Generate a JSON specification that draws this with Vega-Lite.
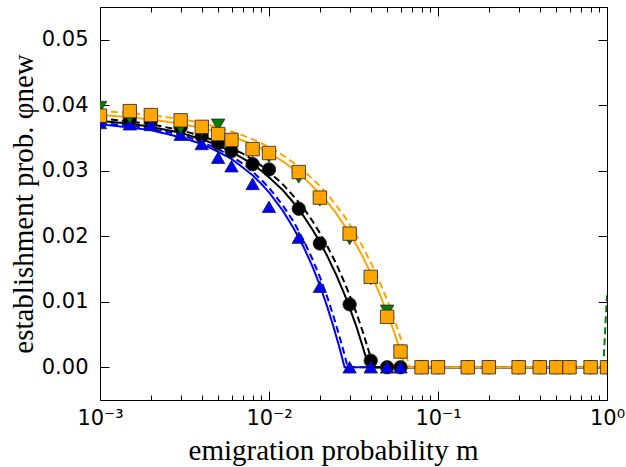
{
  "$schema": "https://vega.github.io/schema/vega-lite/v6.json",
  "autosize": "none",
  "width": 507,
  "height": 393,
  "padding": {"left": 100, "top": 7, "right": 19, "bottom": 67},
  "background": "white",
  "config": {
    "view": {"stroke": null},
    "axis": {
      "domainColor": "black", "domainWidth": 1, "tickColor": "black", "tickWidth": 1,
      "labelColor": "black", "labelFont": "DejaVu Sans", "labelFontSize": 21,
      "titleFont": "Liberation Serif", "titleFontSize": 29, "titleFontWeight": "normal", "titleColor": "black",
      "grid": false
    }
  },
  "datasets": {
    "lines": [
      {"s":"bs","c":"blue","d":"solid","m":0.001,"phi":0.0371},{"s":"bs","c":"blue","d":"solid","m":0.0015,"phi":0.0366},{"s":"bs","c":"blue","d":"solid","m":0.002,"phi":0.0362},{"s":"bs","c":"blue","d":"solid","m":0.003,"phi":0.0351},{"s":"bs","c":"blue","d":"solid","m":0.004,"phi":0.0341},{"s":"bs","c":"blue","d":"solid","m":0.005,"phi":0.0329},{"s":"bs","c":"blue","d":"solid","m":0.006,"phi":0.0318},{"s":"bs","c":"blue","d":"solid","m":0.007,"phi":0.0305},{"s":"bs","c":"blue","d":"solid","m":0.008,"phi":0.0293},{"s":"bs","c":"blue","d":"solid","m":0.009,"phi":0.028},{"s":"bs","c":"blue","d":"solid","m":0.01,"phi":0.0267},{"s":"bs","c":"blue","d":"solid","m":0.012,"phi":0.024},{"s":"bs","c":"blue","d":"solid","m":0.014,"phi":0.0212},{"s":"bs","c":"blue","d":"solid","m":0.016,"phi":0.0184},{"s":"bs","c":"blue","d":"solid","m":0.018,"phi":0.0155},{"s":"bs","c":"blue","d":"solid","m":0.02,"phi":0.0125},{"s":"bs","c":"blue","d":"solid","m":0.022,"phi":0.0094},{"s":"bs","c":"blue","d":"solid","m":0.024,"phi":0.0063},{"s":"bs","c":"blue","d":"solid","m":0.026,"phi":0.0032},{"s":"bs","c":"blue","d":"solid","m":0.028,"phi":0},{"s":"bs","c":"blue","d":"solid","m":1,"phi":0},
      {"s":"bd","c":"blue","d":"dashed","m":0.001,"phi":0.0373},{"s":"bd","c":"blue","d":"dashed","m":0.0015,"phi":0.0369},{"s":"bd","c":"blue","d":"dashed","m":0.002,"phi":0.0364},{"s":"bd","c":"blue","d":"dashed","m":0.003,"phi":0.0355},{"s":"bd","c":"blue","d":"dashed","m":0.004,"phi":0.0344},{"s":"bd","c":"blue","d":"dashed","m":0.005,"phi":0.0333},{"s":"bd","c":"blue","d":"dashed","m":0.006,"phi":0.0322},{"s":"bd","c":"blue","d":"dashed","m":0.007,"phi":0.0311},{"s":"bd","c":"blue","d":"dashed","m":0.008,"phi":0.0299},{"s":"bd","c":"blue","d":"dashed","m":0.009,"phi":0.0286},{"s":"bd","c":"blue","d":"dashed","m":0.01,"phi":0.0274},{"s":"bd","c":"blue","d":"dashed","m":0.012,"phi":0.0248},{"s":"bd","c":"blue","d":"dashed","m":0.014,"phi":0.0222},{"s":"bd","c":"blue","d":"dashed","m":0.016,"phi":0.0194},{"s":"bd","c":"blue","d":"dashed","m":0.018,"phi":0.0166},{"s":"bd","c":"blue","d":"dashed","m":0.02,"phi":0.0138},{"s":"bd","c":"blue","d":"dashed","m":0.022,"phi":0.0109},{"s":"bd","c":"blue","d":"dashed","m":0.024,"phi":0.0079},{"s":"bd","c":"blue","d":"dashed","m":0.026,"phi":0.0049},{"s":"bd","c":"blue","d":"dashed","m":0.028,"phi":0.0019},{"s":"bd","c":"blue","d":"dashed","m":0.0292,"phi":0},{"s":"bd","c":"blue","d":"dashed","m":1,"phi":0},
      {"s":"ks","c":"black","d":"solid","m":0.001,"phi":0.0376},{"s":"ks","c":"black","d":"solid","m":0.0015,"phi":0.0372},{"s":"ks","c":"black","d":"solid","m":0.002,"phi":0.0367},{"s":"ks","c":"black","d":"solid","m":0.003,"phi":0.0358},{"s":"ks","c":"black","d":"solid","m":0.004,"phi":0.0348},{"s":"ks","c":"black","d":"solid","m":0.005,"phi":0.0339},{"s":"ks","c":"black","d":"solid","m":0.006,"phi":0.0329},{"s":"ks","c":"black","d":"solid","m":0.007,"phi":0.0319},{"s":"ks","c":"black","d":"solid","m":0.008,"phi":0.031},{"s":"ks","c":"black","d":"solid","m":0.009,"phi":0.03},{"s":"ks","c":"black","d":"solid","m":0.01,"phi":0.029},{"s":"ks","c":"black","d":"solid","m":0.012,"phi":0.0271},{"s":"ks","c":"black","d":"solid","m":0.014,"phi":0.0251},{"s":"ks","c":"black","d":"solid","m":0.016,"phi":0.0231},{"s":"ks","c":"black","d":"solid","m":0.018,"phi":0.0211},{"s":"ks","c":"black","d":"solid","m":0.02,"phi":0.0191},{"s":"ks","c":"black","d":"solid","m":0.022,"phi":0.0171},{"s":"ks","c":"black","d":"solid","m":0.025,"phi":0.0141},{"s":"ks","c":"black","d":"solid","m":0.028,"phi":0.0111},{"s":"ks","c":"black","d":"solid","m":0.03,"phi":0.0091},{"s":"ks","c":"black","d":"solid","m":0.033,"phi":0.0061},{"s":"ks","c":"black","d":"solid","m":0.036,"phi":0.003},{"s":"ks","c":"black","d":"solid","m":0.039,"phi":0},{"s":"ks","c":"black","d":"solid","m":1,"phi":0},
      {"s":"kd","c":"black","d":"dashed","m":0.001,"phi":0.038},{"s":"kd","c":"black","d":"dashed","m":0.0015,"phi":0.0375},{"s":"kd","c":"black","d":"dashed","m":0.002,"phi":0.0371},{"s":"kd","c":"black","d":"dashed","m":0.003,"phi":0.0362},{"s":"kd","c":"black","d":"dashed","m":0.004,"phi":0.0353},{"s":"kd","c":"black","d":"dashed","m":0.005,"phi":0.0344},{"s":"kd","c":"black","d":"dashed","m":0.006,"phi":0.0335},{"s":"kd","c":"black","d":"dashed","m":0.007,"phi":0.0326},{"s":"kd","c":"black","d":"dashed","m":0.008,"phi":0.0317},{"s":"kd","c":"black","d":"dashed","m":0.009,"phi":0.0308},{"s":"kd","c":"black","d":"dashed","m":0.01,"phi":0.0298},{"s":"kd","c":"black","d":"dashed","m":0.012,"phi":0.028},{"s":"kd","c":"black","d":"dashed","m":0.014,"phi":0.0261},{"s":"kd","c":"black","d":"dashed","m":0.016,"phi":0.0243},{"s":"kd","c":"black","d":"dashed","m":0.018,"phi":0.0224},{"s":"kd","c":"black","d":"dashed","m":0.02,"phi":0.0205},{"s":"kd","c":"black","d":"dashed","m":0.022,"phi":0.0186},{"s":"kd","c":"black","d":"dashed","m":0.025,"phi":0.0158},{"s":"kd","c":"black","d":"dashed","m":0.028,"phi":0.0129},{"s":"kd","c":"black","d":"dashed","m":0.03,"phi":0.011},{"s":"kd","c":"black","d":"dashed","m":0.033,"phi":0.0082},{"s":"kd","c":"black","d":"dashed","m":0.036,"phi":0.0053},{"s":"kd","c":"black","d":"dashed","m":0.039,"phi":0.0024},{"s":"kd","c":"black","d":"dashed","m":0.0415,"phi":0},{"s":"kd","c":"black","d":"dashed","m":1,"phi":0},
      {"s":"gd","c":"green","d":"dashed","m":0.064,"phi":0},{"s":"gd","c":"green","d":"dashed","m":0.95,"phi":0},{"s":"gd","c":"green","d":"dashed","m":1,"phi":0.011},
      {"s":"os","c":"orange","d":"solid","m":0.001,"phi":0.0385},{"s":"os","c":"orange","d":"solid","m":0.0015,"phi":0.0382},{"s":"os","c":"orange","d":"solid","m":0.002,"phi":0.0378},{"s":"os","c":"orange","d":"solid","m":0.003,"phi":0.0372},{"s":"os","c":"orange","d":"solid","m":0.004,"phi":0.0365},{"s":"os","c":"orange","d":"solid","m":0.005,"phi":0.0359},{"s":"os","c":"orange","d":"solid","m":0.006,"phi":0.0353},{"s":"os","c":"orange","d":"solid","m":0.007,"phi":0.0346},{"s":"os","c":"orange","d":"solid","m":0.008,"phi":0.034},{"s":"os","c":"orange","d":"solid","m":0.009,"phi":0.0334},{"s":"os","c":"orange","d":"solid","m":0.01,"phi":0.0327},{"s":"os","c":"orange","d":"solid","m":0.012,"phi":0.0315},{"s":"os","c":"orange","d":"solid","m":0.014,"phi":0.0302},{"s":"os","c":"orange","d":"solid","m":0.016,"phi":0.029},{"s":"os","c":"orange","d":"solid","m":0.018,"phi":0.0277},{"s":"os","c":"orange","d":"solid","m":0.02,"phi":0.0265},{"s":"os","c":"orange","d":"solid","m":0.022,"phi":0.0253},{"s":"os","c":"orange","d":"solid","m":0.025,"phi":0.0235},{"s":"os","c":"orange","d":"solid","m":0.028,"phi":0.0216},{"s":"os","c":"orange","d":"solid","m":0.03,"phi":0.0204},{"s":"os","c":"orange","d":"solid","m":0.033,"phi":0.0186},{"s":"os","c":"orange","d":"solid","m":0.036,"phi":0.0168},{"s":"os","c":"orange","d":"solid","m":0.04,"phi":0.0144},{"s":"os","c":"orange","d":"solid","m":0.045,"phi":0.0113},{"s":"os","c":"orange","d":"solid","m":0.05,"phi":0.0083},{"s":"os","c":"orange","d":"solid","m":0.055,"phi":0.0054},{"s":"os","c":"orange","d":"solid","m":0.06,"phi":0.0024},{"s":"os","c":"orange","d":"solid","m":0.064,"phi":0},{"s":"os","c":"orange","d":"solid","m":1,"phi":0},
      {"s":"od","c":"orange","d":"dashed","m":0.001,"phi":0.0391},{"s":"od","c":"orange","d":"dashed","m":0.0015,"phi":0.0388},{"s":"od","c":"orange","d":"dashed","m":0.002,"phi":0.0385},{"s":"od","c":"orange","d":"dashed","m":0.003,"phi":0.0379},{"s":"od","c":"orange","d":"dashed","m":0.004,"phi":0.0373},{"s":"od","c":"orange","d":"dashed","m":0.005,"phi":0.0366},{"s":"od","c":"orange","d":"dashed","m":0.006,"phi":0.036},{"s":"od","c":"orange","d":"dashed","m":0.007,"phi":0.0354},{"s":"od","c":"orange","d":"dashed","m":0.008,"phi":0.0348},{"s":"od","c":"orange","d":"dashed","m":0.009,"phi":0.0342},{"s":"od","c":"orange","d":"dashed","m":0.01,"phi":0.0336},{"s":"od","c":"orange","d":"dashed","m":0.012,"phi":0.0324},{"s":"od","c":"orange","d":"dashed","m":0.014,"phi":0.0312},{"s":"od","c":"orange","d":"dashed","m":0.016,"phi":0.03},{"s":"od","c":"orange","d":"dashed","m":0.018,"phi":0.0288},{"s":"od","c":"orange","d":"dashed","m":0.02,"phi":0.0277},{"s":"od","c":"orange","d":"dashed","m":0.022,"phi":0.0265},{"s":"od","c":"orange","d":"dashed","m":0.025,"phi":0.0247},{"s":"od","c":"orange","d":"dashed","m":0.028,"phi":0.023},{"s":"od","c":"orange","d":"dashed","m":0.03,"phi":0.0218},{"s":"od","c":"orange","d":"dashed","m":0.033,"phi":0.0201},{"s":"od","c":"orange","d":"dashed","m":0.036,"phi":0.0183},{"s":"od","c":"orange","d":"dashed","m":0.04,"phi":0.016},{"s":"od","c":"orange","d":"dashed","m":0.045,"phi":0.0131},{"s":"od","c":"orange","d":"dashed","m":0.05,"phi":0.0103},{"s":"od","c":"orange","d":"dashed","m":0.055,"phi":0.0074},{"s":"od","c":"orange","d":"dashed","m":0.06,"phi":0.0045},{"s":"od","c":"orange","d":"dashed","m":0.064,"phi":0.0023},{"s":"od","c":"orange","d":"dashed","m":0.068,"phi":0},{"s":"od","c":"orange","d":"dashed","m":1,"phi":0}
    ],
    "points": [
      {"c":"black","m":0.001,"phi":0.038},{"c":"black","m":0.0015,"phi":0.0378},{"c":"black","m":0.002,"phi":0.0376},{"c":"black","m":0.003,"phi":0.0366},{"c":"black","m":0.004,"phi":0.0353},{"c":"black","m":0.005,"phi":0.0342},{"c":"black","m":0.006,"phi":0.033},{"c":"black","m":0.008,"phi":0.031},{"c":"black","m":0.01,"phi":0.0302},{"c":"black","m":0.015,"phi":0.0242},{"c":"black","m":0.02,"phi":0.0189},{"c":"black","m":0.03,"phi":0.0096},{"c":"black","m":0.04,"phi":0.001},{"c":"black","m":0.05,"phi":0},{"c":"black","m":0.06,"phi":0},{"c":"black","m":0.08,"phi":0},{"c":"black","m":0.1,"phi":0},{"c":"black","m":0.15,"phi":0},{"c":"black","m":0.2,"phi":0},{"c":"black","m":0.3,"phi":0},{"c":"black","m":0.4,"phi":0},{"c":"black","m":0.5,"phi":0},{"c":"black","m":0.6,"phi":0},{"c":"black","m":0.8,"phi":0},{"c":"black","m":1,"phi":0},
      {"c":"blue","m":0.001,"phi":0.0373},{"c":"blue","m":0.0015,"phi":0.0371},{"c":"blue","m":0.002,"phi":0.037},{"c":"blue","m":0.003,"phi":0.0355},{"c":"blue","m":0.004,"phi":0.0341},{"c":"blue","m":0.005,"phi":0.032},{"c":"blue","m":0.006,"phi":0.0307},{"c":"blue","m":0.008,"phi":0.028},{"c":"blue","m":0.01,"phi":0.0245},{"c":"blue","m":0.015,"phi":0.0198},{"c":"blue","m":0.02,"phi":0.0123},{"c":"blue","m":0.03,"phi":0},{"c":"blue","m":0.04,"phi":0},{"c":"blue","m":0.05,"phi":0},{"c":"blue","m":0.06,"phi":0},{"c":"blue","m":0.08,"phi":0},{"c":"blue","m":0.1,"phi":0},{"c":"blue","m":0.15,"phi":0},{"c":"blue","m":0.2,"phi":0},{"c":"blue","m":0.3,"phi":0},{"c":"blue","m":0.4,"phi":0},{"c":"blue","m":0.5,"phi":0},{"c":"blue","m":0.6,"phi":0},{"c":"blue","m":0.8,"phi":0},{"c":"blue","m":1,"phi":0},
      {"c":"green","m":0.001,"phi":0.0397},{"c":"green","m":0.0015,"phi":0.0381},{"c":"green","m":0.002,"phi":0.0383},{"c":"green","m":0.003,"phi":0.0365},{"c":"green","m":0.004,"phi":0.0362},{"c":"green","m":0.005,"phi":0.037},{"c":"green","m":0.006,"phi":0.0345},{"c":"green","m":0.008,"phi":0.033},{"c":"green","m":0.01,"phi":0.0322},{"c":"green","m":0.015,"phi":0.029},{"c":"green","m":0.02,"phi":0.0255},{"c":"green","m":0.03,"phi":0.0196},{"c":"green","m":0.04,"phi":0.0135},{"c":"green","m":0.05,"phi":0.0086},{"c":"green","m":0.06,"phi":0.0022},{"c":"green","m":0.08,"phi":0},{"c":"green","m":0.1,"phi":0},{"c":"green","m":0.15,"phi":0},{"c":"green","m":0.2,"phi":0},{"c":"green","m":0.3,"phi":0},{"c":"green","m":0.4,"phi":0},{"c":"green","m":0.5,"phi":0},{"c":"green","m":0.6,"phi":0},{"c":"green","m":0.8,"phi":0},
      {"c":"orange","m":0.001,"phi":0.0384},{"c":"orange","m":0.0015,"phi":0.0391},{"c":"orange","m":0.002,"phi":0.0385},{"c":"orange","m":0.003,"phi":0.0377},{"c":"orange","m":0.004,"phi":0.0367},{"c":"orange","m":0.005,"phi":0.0356},{"c":"orange","m":0.006,"phi":0.0347},{"c":"orange","m":0.008,"phi":0.0333},{"c":"orange","m":0.01,"phi":0.0327},{"c":"orange","m":0.015,"phi":0.0298},{"c":"orange","m":0.02,"phi":0.0259},{"c":"orange","m":0.03,"phi":0.0204},{"c":"orange","m":0.04,"phi":0.0138},{"c":"orange","m":0.05,"phi":0.0077},{"c":"orange","m":0.06,"phi":0.0024},{"c":"orange","m":0.08,"phi":0},{"c":"orange","m":0.1,"phi":0},{"c":"orange","m":0.15,"phi":0},{"c":"orange","m":0.2,"phi":0},{"c":"orange","m":0.3,"phi":0},{"c":"orange","m":0.4,"phi":0},{"c":"orange","m":0.5,"phi":0},{"c":"orange","m":0.6,"phi":0},{"c":"orange","m":0.8,"phi":0},{"c":"orange","m":1,"phi":0}
    ]
  },
  "resolve": {"axis": {"x": "independent", "y": "independent"}},
  "layer": [
    {
      "data": {"name": "lines"},
      "mark": {"type": "line", "strokeWidth": 2, "clip": true},
      "encoding": {
        "x": {"field": "m", "type": "quantitative",
          "scale": {"type": "log", "domain": [0.001, 1], "nice": false},
          "axis": {"orient": "bottom", "title": "emigration probability m",
            "values": [0.001,0.002,0.003,0.004,0.005,0.006,0.007,0.008,0.009,0.01,0.02,0.03,0.04,0.05,0.06,0.07,0.08,0.09,0.1,0.2,0.3,0.4,0.5,0.6,0.7,0.8,0.9,1],
            "labelExpr": "datum.value == 0.001 ? '10⁻³' : datum.value == 0.01 ? '10⁻²' : datum.value == 0.1 ? '10⁻¹' : datum.value == 1 ? '10⁰' : ''",
            "tickSize": {"condition": {"test": "datum.value == 0.001 || datum.value == 0.01 || datum.value == 0.1 || datum.value == 1", "value": -9}, "value": -5},
            "labelFlush": false, "labelOverlap": false, "labelPadding": 16, "titlePadding": 4, "titleX": 233}},
        "y": {"field": "phi", "type": "quantitative",
          "scale": {"domain": [-0.005, 0.055], "nice": false, "zero": false},
          "axis": {"orient": "left", "title": "establishment prob. φnew",
            "values": [0, 0.01, 0.02, 0.03, 0.04, 0.05], "format": ".2f",
            "tickSize": -9, "labelPadding": 21, "titlePadding": 3}},
        "color": {"field": "c", "type": "nominal", "legend": null,
          "scale": {"domain": ["blue", "black", "green", "orange"], "range": ["#0000ff", "#000000", "#008000", "#ffa500"]}},
        "strokeDash": {"field": "d", "type": "nominal", "legend": null,
          "scale": {"domain": ["solid", "dashed"], "range": [[1, 0], [7, 4]]}},
        "detail": {"field": "s"}
      }
    },
    {
      "data": {"name": "points"},
      "mark": {"type": "point", "filled": true, "opacity": 1, "size": 180, "stroke": "#222222", "strokeWidth": 0.8, "clip": true},
      "encoding": {
        "x": {"field": "m", "type": "quantitative", "scale": {"type": "log", "domain": [0.001, 1], "nice": false}, "axis": null},
        "y": {"field": "phi", "type": "quantitative", "scale": {"domain": [-0.005, 0.055], "nice": false, "zero": false}, "axis": null},
        "color": {"field": "c", "type": "nominal", "legend": null,
          "scale": {"domain": ["blue", "black", "green", "orange"], "range": ["#0000ff", "#000000", "#008000", "#ffa500"]}},
        "shape": {"field": "c", "type": "nominal", "legend": null,
          "scale": {"domain": ["blue", "black", "green", "orange"], "range": ["triangle-up", "circle", "triangle-down", "square"]}}
      }
    },
    {
      "data": {"name": "points"},
      "mark": {"type": "point", "opacity": 0},
      "encoding": {
        "x": {"field": "m", "type": "quantitative", "scale": {"type": "log", "domain": [0.001, 1], "nice": false},
          "axis": {"orient": "top", "title": null, "labels": false,
            "values": [0.001,0.002,0.003,0.004,0.005,0.006,0.007,0.008,0.009,0.01,0.02,0.03,0.04,0.05,0.06,0.07,0.08,0.09,0.1,0.2,0.3,0.4,0.5,0.6,0.7,0.8,0.9,1],
            "tickSize": {"condition": {"test": "datum.value == 0.001 || datum.value == 0.01 || datum.value == 0.1 || datum.value == 1", "value": -9}, "value": -5}}},
        "y": {"field": "phi", "type": "quantitative", "scale": {"domain": [-0.005, 0.055], "nice": false, "zero": false},
          "axis": {"orient": "right", "title": null, "labels": false, "values": [0, 0.01, 0.02, 0.03, 0.04, 0.05], "tickSize": -9}}
      }
    }
  ]
}
